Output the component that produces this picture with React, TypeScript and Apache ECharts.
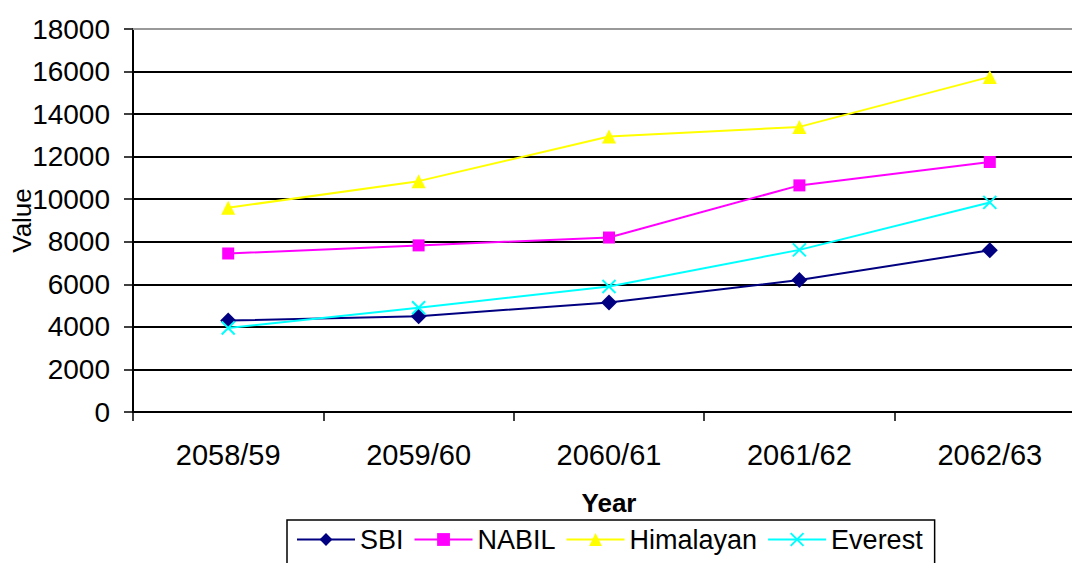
import React, { useEffect, useRef } from "react";
import * as echarts from "echarts";

const categories = ["2058/59", "2059/60", "2060/61", "2061/62", "2062/63"];
const sbi = [4300, 4500, 5150, 6200, 7600];
const nabil = [7450, 7830, 8200, 10650, 11750];
const himalayan = [9600, 10850, 12950, 13400, 15750];
const everest = [3950, 4900, 5900, 7620, 9850];
const yTicks = { min: 0, max: 18000, interval: 2000 };

const FONT = "Liberation Sans, Arial, sans-serif";

export default function App() {
  const ref = useRef<HTMLDivElement>(null);
  useEffect(() => {
    if (!ref.current) return;
    const chart = echarts.init(ref.current, null, { renderer: "svg" });
    chart.setOption({
      animation: false,
      backgroundColor: "#fff",
      textStyle: { fontFamily: FONT },
      grid: {
        left: 133,
        top: 29,
        width: 952,
        height: 383,
        containLabel: false,
        outerBoundsMode: "none",
      },
      xAxis: [
        {
          type: "category",
          data: categories,
          boundaryGap: true,
          name: "Year",
          nameLocation: "middle",
          nameGap: 78,
          nameMoveOverlap: false,
          nameTextStyle: { fontFamily: FONT, fontSize: 26, fontWeight: "bold", color: "#000" },
          axisLine: { lineStyle: { color: "#000", width: 2 } },
          axisTick: { show: true, length: 9, lineStyle: { color: "#000", width: 1.5 } },
          axisLabel: { fontFamily: FONT, fontSize: 29, color: "#000", margin: 28 },
        },
        {
          type: "category",
          data: categories,
          position: "top",
          axisLine: { show: true, lineStyle: { color: "#999", width: 2 } },
          axisTick: { show: false },
          axisLabel: { show: false },
        },
      ],
      yAxis: {
        type: "value",
        min: yTicks.min,
        max: yTicks.max,
        interval: yTicks.interval,
        name: "Value",
        nameLocation: "middle",
        nameGap: 98,
        nameMoveOverlap: false,
        nameRotate: 90,
        nameTextStyle: { fontFamily: FONT, fontSize: 26, color: "#000" },
        axisLine: { show: true, lineStyle: { color: "#000", width: 2 } },
        axisTick: { show: true, length: 9, lineStyle: { color: "#000", width: 1.5 } },
        axisLabel: {
          fontFamily: FONT,
          fontSize: 28,
          color: "#000",
          margin: 23,
          formatter: (v: number) => String(v),
        },
        splitLine: { show: true, showMaxLine: false, lineStyle: { color: "#000", width: 2 } },
      },
      legend: {
        left: 287,
        top: 520,
        padding: [6, 12, 14, 9],
        borderColor: "#000",
        borderWidth: 1.5,
        itemWidth: 58,
        itemHeight: 16,
        itemGap: 10,
        textStyle: { fontFamily: FONT, fontSize: 27, color: "#000" },
        data: ["SBI", "NABIL", "Himalayan", "Everest"],
      },
      series: [
        {
          name: "SBI",
          type: "line",
          data: sbi,
          symbol: "diamond",
          symbolSize: 16,
          color: "#000080",
          lineStyle: { width: 2, color: "#000080" },
          itemStyle: { color: "#000080" },
        },
        {
          name: "NABIL",
          type: "line",
          data: nabil,
          symbol: "rect",
          symbolSize: 12,
          color: "#FF00FF",
          lineStyle: { width: 2, color: "#FF00FF" },
          itemStyle: { color: "#FF00FF" },
        },
        {
          name: "Himalayan",
          type: "line",
          data: himalayan,
          symbol: "triangle",
          symbolSize: 14,
          color: "#FFFF00",
          lineStyle: { width: 2, color: "#FFFF00" },
          itemStyle: { color: "#FFFF00" },
        },
        {
          name: "Everest",
          type: "line",
          data: everest,
          symbol: "path://M0,0L10,10M10,0L0,10",
          symbolSize: 13,
          color: "#00FFFF",
          lineStyle: { width: 2, color: "#00FFFF" },
          itemStyle: { color: "#00FFFF", borderColor: "#00FFFF", borderWidth: 2 },
        },
      ],
    });
    return () => chart.dispose();
  }, []);
  return (
    <div
      ref={ref}
      style={{ position: "absolute", left: 0, top: 0, width: 1072, height: 563, overflow: "hidden" }}
    />
  );
}
